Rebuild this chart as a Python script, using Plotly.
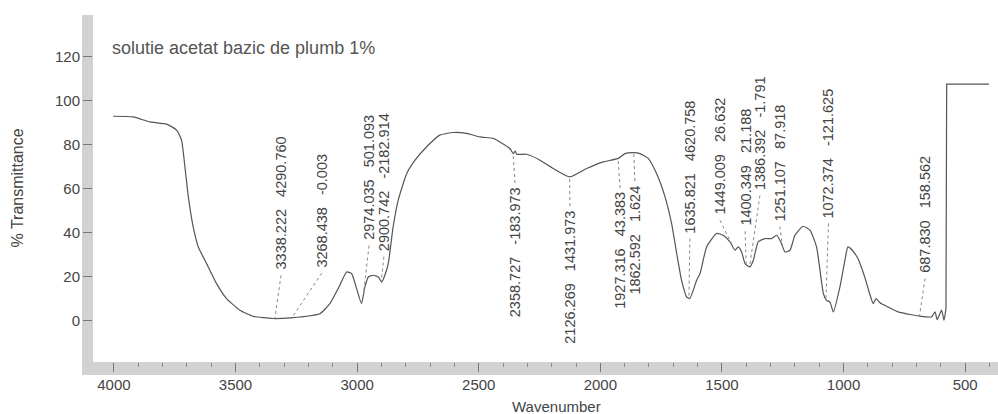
import numpy as np
import plotly.graph_objects as go

# ---------------- data ----------------
wavenumber = [4003, 3921, 3852, 3783, 3742, 3722, 3708, 3694, 3674, 3653, 3619, 3578,
              3537, 3482, 3427, 3345, 3263, 3235, 3153, 3112, 3071, 3043, 3023, 3002,
              2982, 2968, 2954, 2934, 2913, 2899, 2886, 2872, 2852, 2831, 2796, 2762,
              2714, 2660, 2605, 2550, 2495, 2440, 2413, 2372, 2358, 2350, 2344, 2303,
              2248, 2194, 2125, 2056, 1988, 1926, 1899, 1865, 1837, 1803, 1769, 1734,
              1707, 1686, 1666, 1645, 1632, 1604, 1590, 1563, 1522, 1495, 1467, 1447,
              1433, 1419, 1405, 1385, 1371, 1351, 1323, 1296, 1275, 1255, 1241, 1220,
              1200, 1166, 1138, 1111, 1083, 1070, 1056, 1042, 1015, 995, 982, 965,
              941, 913, 893, 878, 866, 850, 831, 776, 720, 680, 645, 638, 624, 615,
              597, 587, 579, 576, 402]
transmittance = [92.9, 92.6, 90.3, 89.3, 86.6, 82.0, 69.8, 56.2, 42.5, 33.4, 25.8, 16.7,
                 9.9, 4.6, 1.8, 0.8, 1.2, 1.5, 3.0, 7.6, 16.0, 22.0, 21.3, 14.4,
                 7.6, 15.2, 19.7, 20.5, 19.7, 17.4, 20.5, 25.8, 42.5, 54.7, 66.8, 72.9,
                 79.0, 84.3, 85.5, 85.1, 83.5, 82.8, 81.2, 78.2, 75.9, 77.0, 75.6, 75.6,
                 72.9, 69.1, 65.3, 69.1, 72.1, 73.7, 75.9, 76.3, 75.9, 73.7, 66.8, 56.2,
                 44.0, 30.4, 18.2, 10.6, 9.9, 18.2, 21.3, 33.4, 39.5, 38.7, 35.7, 31.9,
                 33.4, 31.1, 25.8, 24.3, 27.3, 35.7, 37.2, 37.2, 38.7, 34.9, 31.1, 31.9,
                 38.7, 42.8, 41.0, 33.4, 12.2, 9.1, 8.3, 3.8, 15.2, 27.0, 33.4, 32.0,
                 28.1, 19.7, 12.2, 7.6, 9.9, 8.0, 6.8, 3.8, 2.5, 1.8, 1.5, 1.5, 3.8, 0.3,
                 4.6, 0.0, 5.3, 107.5, 107.5]

peak_wn = [3338.222, 3268.438, 2974.035, 2900.742, 2358.727, 2126.269, 1927.316,
           1862.592, 1635.821, 1449.009, 1400.349, 1386.392, 1251.107, 1072.374, 687.830]
peak_val = [4290.760, -0.003, 501.093, -2182.914, -183.973, 1431.973, 43.383,
            1.624, 4620.758, 26.632, 21.188, -1.791, 87.918, -121.625, 158.562]
label_wn = [3313, 3145, 2951, 2890, 2351, 2125, 1919, 1858, 1632, 1508, 1405, 1344,
            1262, 1062, 665]
label_t = [22.0, 23.0, 35.5, 30.5, 61.5, 51.0, 59.2, 62.4, 38.7, 47.0, 42.0, 58.3,
           44.2, 45.6, 20.5]
label_side = ["above", "above", "above", "above", "below", "below", "below", "below",
              "above", "above", "above", "above", "above", "above", "above"]

x_ticks = [4000, 3500, 3000, 2500, 2000, 1500, 1000, 500]
y_ticks = [0, 20, 40, 60, 80, 100, 120]

title_text = "solutie acetat bazic de plumb 1%"
x_title = "Wavenumber"
y_title = "% Transmittance"

# ---------------- figure ----------------
W, H = 998, 414
ml, mr, mt, mb = 93, 0, 15, 52
pw, ph = W - ml - mr, H - mt - mb

# spectrum: smooth part, then the instrument step at the low-wavenumber end
n_step = 2
fig = go.Figure()
fig.add_trace(go.Scatter(x=wavenumber[:-n_step], y=transmittance[:-n_step], mode="lines",
                         line=dict(color="#555555", width=1.2, shape="spline",
                                   smoothing=0.5),
                         hoverinfo="skip", showlegend=False))
fig.add_trace(go.Scatter(x=wavenumber[-n_step - 1:], y=transmittance[-n_step - 1:],
                         mode="lines", line=dict(color="#555555", width=1.2),
                         hoverinfo="skip", showlegend=False))

# hatched-looking frame bands (left & bottom)
band = "#d2d2d2"
bx0 = (82 - ml) / pw
by0 = -(375 - (H - mb)) / ph
fig.add_shape(type="rect", xref="paper", yref="paper", x0=bx0, x1=0, y0=by0, y1=1,
              fillcolor=band, line=dict(width=0), layer="below")
fig.add_shape(type="rect", xref="paper", yref="paper", x0=bx0, x1=1, y0=by0, y1=0,
              fillcolor=band, line=dict(width=0), layer="below")

w_sorted = np.array(wavenumber[::-1], dtype=float)
t_sorted = np.array(transmittance[::-1], dtype=float)

nb = "\u00a0" * 3
for pw_, pv, lx, ly, side in zip(peak_wn, peak_val, label_wn, label_t, label_side):
    txt = f"{pw_:.3f}{nb}{pv:.3f}"
    yc = float(np.interp(pw_, w_sorted, t_sorted))
    if side == "above":
        fig.add_annotation(x=lx, y=ly, text=txt, textangle=-90, showarrow=False,
                           xanchor="center", yanchor="bottom",
                           font=dict(size=14.5, color="#444444"))
        y_start = ly - 1.5
    else:
        fig.add_annotation(x=lx, y=ly, text=txt, textangle=-90, showarrow=False,
                           xanchor="center", yanchor="top",
                           font=dict(size=14.5, color="#444444"))
        y_start = ly + 1.0
    fig.add_shape(type="line", x0=lx, x1=pw_, y0=y_start, y1=yc,
                  line=dict(color="#888888", width=1, dash="dot"))

fig.add_annotation(xref="paper", yref="paper", x=(110 - ml) / pw, y=(H - mb - 48) / ph,
                   text=title_text, showarrow=False, xanchor="left", yanchor="middle",
                   font=dict(size=18, color="#555555"))
fig.add_annotation(xref="paper", yref="paper", x=(17 - ml) / pw, y=0.5,
                   text=y_title, textangle=-90, showarrow=False, xanchor="center",
                   yanchor="middle", font=dict(size=16, color="#444444"))
fig.add_annotation(xref="paper", yref="paper", x=(556 - ml) / pw,
                   y=-(406 - (H - mb)) / ph, text=x_title, showarrow=False,
                   xanchor="center", yanchor="middle",
                   font=dict(size=15, color="#444444"))

fig.update_layout(
    width=W, height=H, margin=dict(l=ml, r=mr, t=mt, b=mb),
    paper_bgcolor="#ffffff", plot_bgcolor="#ffffff",
    font=dict(family="Liberation Sans, Arial, sans-serif", color="#444444"),
    showlegend=False,
    xaxis=dict(range=[4086, 365], tickvals=x_ticks, ticks="outside", ticklen=9,
               tickcolor="#777777", showgrid=False, zeroline=False, showline=False,
               tickfont=dict(size=15, color="#444444"),
               minor=dict(dtick=100, ticks="outside", ticklen=4, tickcolor="#888888")),
    yaxis=dict(range=[-19, 139], tickvals=y_ticks, ticks="outside", ticklen=9,
               tickcolor="#777777", showgrid=False, zeroline=False, showline=False,
               tickfont=dict(size=15, color="#444444")),
)

fig.write_html("out.html")
